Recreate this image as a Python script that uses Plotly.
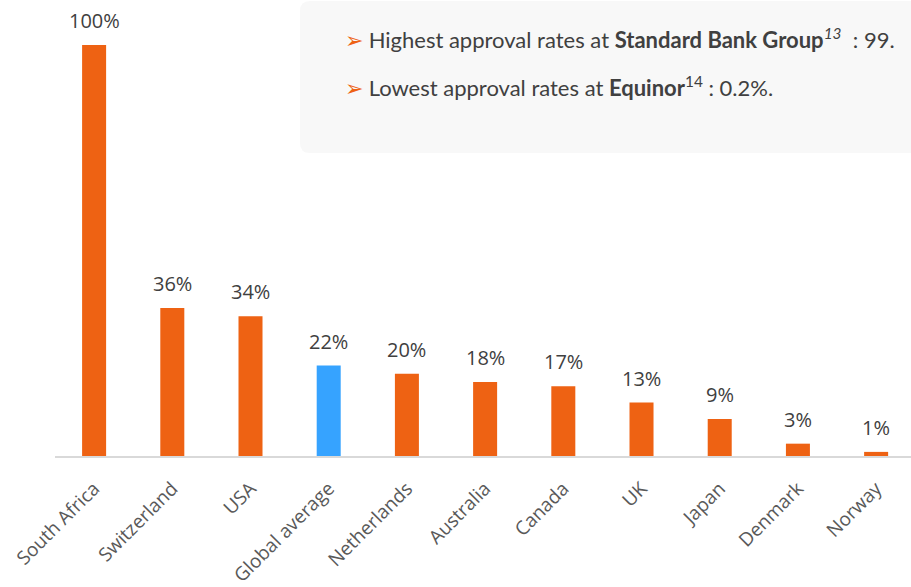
import plotly.graph_objects as go

categories = ["South Africa", "Switzerland", "USA", "Global average", "Netherlands",
              "Australia", "Canada", "UK", "Japan", "Denmark", "Norway"]
values = [100, 36, 34, 22, 20, 18, 17, 13, 9, 3, 1]
labels = ["100%", "36%", "34%", "22%", "20%", "18%", "17%", "13%", "9%", "3%", "1%"]
highlight = "Global average"

ORANGE = "#EE6213"
BLUE = "#36A3FF"
colors = [BLUE if c == highlight else ORANGE for c in categories]

W, H = 911, 587
ML, MR, MT, MB = 55, 0, 0, 131
pw = W - ML - MR
ph = H - MT - MB

fig = go.Figure(go.Bar(
    x=categories, y=values,
    marker=dict(color=colors, line=dict(width=0)),
    width=0.307,
    hoverinfo="x+y",
))

for c, v, lab in zip(categories, values, labels):
    fig.add_annotation(x=c, y=v, xref="x", yref="y", text=lab, showarrow=False,
                       yanchor="bottom", yshift=9,
                       font=dict(family="Open Sans", size=20, color="#404040"))

def px_x(p):
    return (p - ML) / pw

def px_y(p):
    return (H - MB - p) / ph

# rounded background box for notes
x0, x1 = px_x(300), px_x(940)
y0, y1 = px_y(153), px_y(1)
rx, ry = 10 / pw, 10 / ph
path = (f"M {x0+rx},{y0} L {x1},{y0} L {x1},{y1} L {x0+rx},{y1} "
        f"Q {x0},{y1} {x0},{y1-ry} L {x0},{y0+ry} Q {x0},{y0} {x0+rx},{y0} Z")
fig.add_shape(type="path", path=path, xref="paper", yref="paper",
              fillcolor="#F8F8F8", line=dict(width=0), layer="below")

notes = [
    "Highest approval rates at <b>Standard Bank Group</b><sup><i>13</i></sup>  : 99.",
    "Lowest approval rates at <b>Equinor</b><sup>14</sup> : 0.2%.",
]
note_y = [38, 87]
for t, yy in zip(notes, note_y):
    fig.add_annotation(xref="paper", yref="paper", x=px_x(343), y=px_y(yy),
                       xanchor="left", yanchor="middle", showarrow=False,
                       text=f"<span style='color:{ORANGE}'>➢</span> " + t,
                       font=dict(family="Lato", size=22, color="#404040"))

fig.update_layout(
    width=W, height=H,
    margin=dict(l=ML, r=MR, t=MT, b=MB),
    paper_bgcolor="white", plot_bgcolor="white",
    showlegend=False,
    xaxis=dict(range=[-0.5, 10.446], tickangle=-45, showgrid=False,
               showline=True, linecolor="#D9D9D9", linewidth=2,
               ticks="", ticklabelstandoff=12, automargin=False,
               tickfont=dict(family="Open Sans", size=19, color="#595959")),
    yaxis=dict(range=[0, 110.95], visible=False, showgrid=False, zeroline=False,
               automargin=False),
)

html = fig.to_html(full_html=True, include_plotlyjs=True,
                   config={"displayModeBar": False})
html = html.replace("<head>", "<head><style>html,body{margin:0;padding:0;overflow:hidden}</style>", 1)
with open("out.html", "w", encoding="utf-8") as f:
    f.write(html)
